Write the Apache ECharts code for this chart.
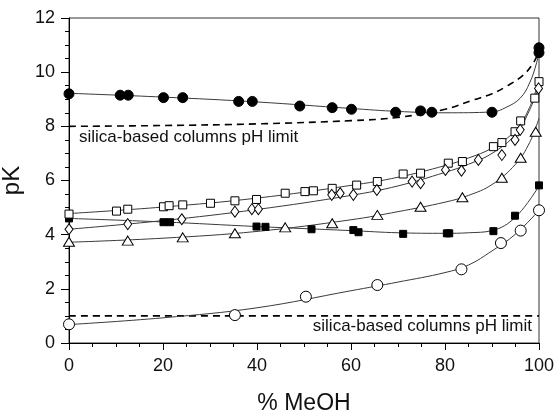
<!DOCTYPE html>
<html>
<head>
<meta charset="utf-8">
<script src="https://cdn.jsdelivr.net/npm/echarts@6/dist/echarts.min.js"></script>
<style>
html, body { margin: 0; padding: 0; background: #fff; }
#chart { width: 555px; height: 410px; }
</style>
</head>
<body>
<div id="chart"></div>
<script>
// measured points, [% MeOH, pK]
var filledCircles = [[0, 9.2], [10.9, 9.15], [12.6, 9.15], [20.1, 9.06], [24.2, 9.06], [36.1, 8.92], [39, 8.92],
    [49.1, 8.75], [56, 8.69], [60.1, 8.63], [69.5, 8.52], [74.8, 8.57], [77.2, 8.52], [90, 8.52], [100, 10.9], [100, 10.72]];
var openCircles = [[0, 0.69], [35.3, 1.03], [50.4, 1.71], [65.6, 2.14], [83.5, 2.72], [91.9, 3.69], [96.1, 4.15], [100, 4.9]];
var filledSquares = [[0, 4.6], [20.1, 4.46], [21.5, 4.46], [39.9, 4.3], [41.8, 4.29], [51.6, 4.2], [60.5, 4.17], [61.6, 4.09],
    [71.1, 4.03], [80.4, 4.05], [80.9, 4.05], [90.3, 4.13], [94.9, 4.7], [100, 5.82]];
var openSquares = [[0, 4.76], [10.1, 4.87], [12.5, 4.94], [20.1, 5.03], [21.3, 5.07], [24.2, 5.1], [30.1, 5.16], [35.3, 5.25],
    [39.9, 5.3], [46, 5.53], [50.2, 5.59], [52, 5.62], [56, 5.71], [61.2, 5.83], [65.6, 5.96], [71.1, 6.24], [74.8, 6.27],
    [80.7, 6.64], [83.7, 6.7], [90.3, 7.25], [92.1, 7.4], [94.9, 7.8], [96.1, 8.2], [99.1, 9.04], [100, 9.65]];
var openDiamonds = [[0, 4.2], [12.5, 4.39], [24, 4.57], [35.3, 4.85], [38.9, 4.94], [40.3, 4.94], [55.9, 5.47], [57.7, 5.53],
    [60.5, 5.47], [65.5, 5.65], [73, 5.96], [74.8, 5.9], [80.1, 6.39], [83.5, 6.36], [87.1, 6.76], [92.1, 6.94], [94.9, 7.5],
    [96, 7.87], [99.9, 9.4]];
var openTriangles = [[0, 3.74], [12.5, 3.78], [24.2, 3.9], [35.3, 4.05], [46, 4.27], [56, 4.42], [65.6, 4.73], [74.8, 5.03],
    [83.7, 5.38], [92.1, 6.1], [96.1, 6.84], [99.3, 7.8]];

// fitted curves
var fitFilledCircles = [[0, 9.22], [20, 9.08], [40, 8.9], [60, 8.66], [70, 8.55], [80, 8.5], [90, 8.53], [93, 8.7], [96, 9.04], [98, 9.6], [99.5, 10.35], [100, 10.8]];
var fitOpenCircles = [[0, 0.68], [20, 0.93], [40, 1.3], [60, 1.93], [70, 2.25], [80, 2.6], [85, 2.88], [90, 3.4], [95, 4.02], [100, 4.9]];
var fitFilledSquares = [[0, 4.6], [20, 4.47], [40, 4.3], [60, 4.15], [70, 4.07], [80, 4.05], [85, 4.07], [90, 4.15], [95, 4.65], [100, 5.8]];
var fitOpenSquares = [[0, 4.78], [20, 5.02], [40, 5.35], [60, 5.82], [70, 6.12], [80, 6.55], [85, 6.83], [90, 7.2], [95, 7.85], [98, 8.7], [100, 9.7]];
var fitOpenDiamonds = [[0, 4.2], [20, 4.52], [40, 4.93], [60, 5.45], [70, 5.8], [80, 6.3], [85, 6.6], [90, 7.0], [95, 7.7], [98, 8.6], [100, 9.5]];
var fitOpenTriangles = [[0, 3.72], [20, 3.87], [40, 4.12], [60, 4.55], [70, 4.85], [80, 5.2], [85, 5.45], [90, 5.85], [95, 6.6], [98, 7.4], [100, 8.3]];

// silica-based columns pH limits (dashed)
var upperLimit = [[0, 8.0], [20, 8.03], [40, 8.09], [60, 8.21], [70, 8.33], [80, 8.63], [86, 8.97], [90, 9.2], [93, 9.47], [96.7, 9.9], [99, 10.4], [100, 10.8]];
var lowerLimit = [[0, 1.0], [100, 1.0]];

var xTicks = { min: 0, max: 100, interval: 20 };
var yTicks = { min: 0, max: 12, interval: 2 };

var FONT = '"Liberation Sans", Arial, sans-serif';
var INK = '#111';
var LINE = '#3a3a3a';

function fit(data) {
    return {
        type: 'line', data: data, smooth: 0.4, showSymbol: false, silent: true,
        lineStyle: { color: LINE, width: 1 }, z: 2
    };
}

function dots(data, symbol, size, filled) {
    return {
        type: 'scatter', data: data, symbol: symbol, symbolSize: size, z: 5,
        itemStyle: { color: filled ? '#000' : '#fff', borderColor: '#000', borderWidth: 1, opacity: 1 }
    };
}

function limit(data) {
    return {
        type: 'line', data: data, smooth: 0.4, showSymbol: false, silent: true,
        lineStyle: { color: '#000', width: 1.6, type: [7, 5] }, z: 1
    };
}

var chart = echarts.init(document.getElementById('chart'));
chart.setOption({
    animation: false,
    grid: { left: 69, right: 16, top: 18, bottom: 67, outerBoundsMode: 'none', show: true, borderColor: '#333', borderWidth: 1 },
    xAxis: {
        type: 'value', min: xTicks.min, max: xTicks.max, interval: xTicks.interval,
        name: '% MeOH', nameLocation: 'middle', nameGap: 49,
        nameTextStyle: { fontFamily: FONT, fontSize: 23, color: INK },
        axisLine: { lineStyle: { color: '#000', width: 1 } },
        axisTick: { inside: false, length: 7, lineStyle: { color: '#000' } },
        minorTick: { show: true, splitNumber: 4, length: 4, lineStyle: { color: '#000' } },
        splitLine: { show: false },
        axisLabel: { fontFamily: FONT, fontSize: 18, color: INK, margin: 14 }
    },
    yAxis: {
        type: 'value', min: yTicks.min, max: yTicks.max, interval: yTicks.interval,
        name: 'pK', nameLocation: 'middle', nameGap: 40, nameRotate: 90,
        nameTextStyle: { fontFamily: FONT, fontSize: 24, color: INK },
        axisLine: { show: true, lineStyle: { color: '#000', width: 1 } },
        axisTick: { show: true, inside: false, length: 8, lineStyle: { color: '#000' } },
        minorTick: { show: true, splitNumber: 4, length: 4, lineStyle: { color: '#000' } },
        splitLine: { show: false },
        axisLabel: { fontFamily: FONT, fontSize: 18, color: INK, margin: 14 }
    },
    graphic: [
        { type: 'text', left: 79, top: 129, style: { text: 'silica-based columns pH limit', font: '17px ' + FONT, fill: INK } },
        { type: 'text', right: 23, top: 318, style: { text: 'silica-based columns pH limit', font: '17px ' + FONT, fill: INK } }
    ],
    series: [
        limit(upperLimit), limit(lowerLimit),
        fit(fitFilledCircles), fit(fitOpenCircles), fit(fitFilledSquares),
        fit(fitOpenSquares), fit(fitOpenDiamonds), fit(fitOpenTriangles),
        dots(filledCircles, 'circle', 10, true),
        dots(openCircles, 'circle', 11, false),
        dots(filledSquares, 'rect', 7, true),
        dots(openSquares, 'rect', 8, false),
        dots(openDiamonds, 'diamond', [8, 11], false),
        dots(openTriangles, 'triangle', [11, 9], false)
    ]
});
</script>
</body>
</html>
